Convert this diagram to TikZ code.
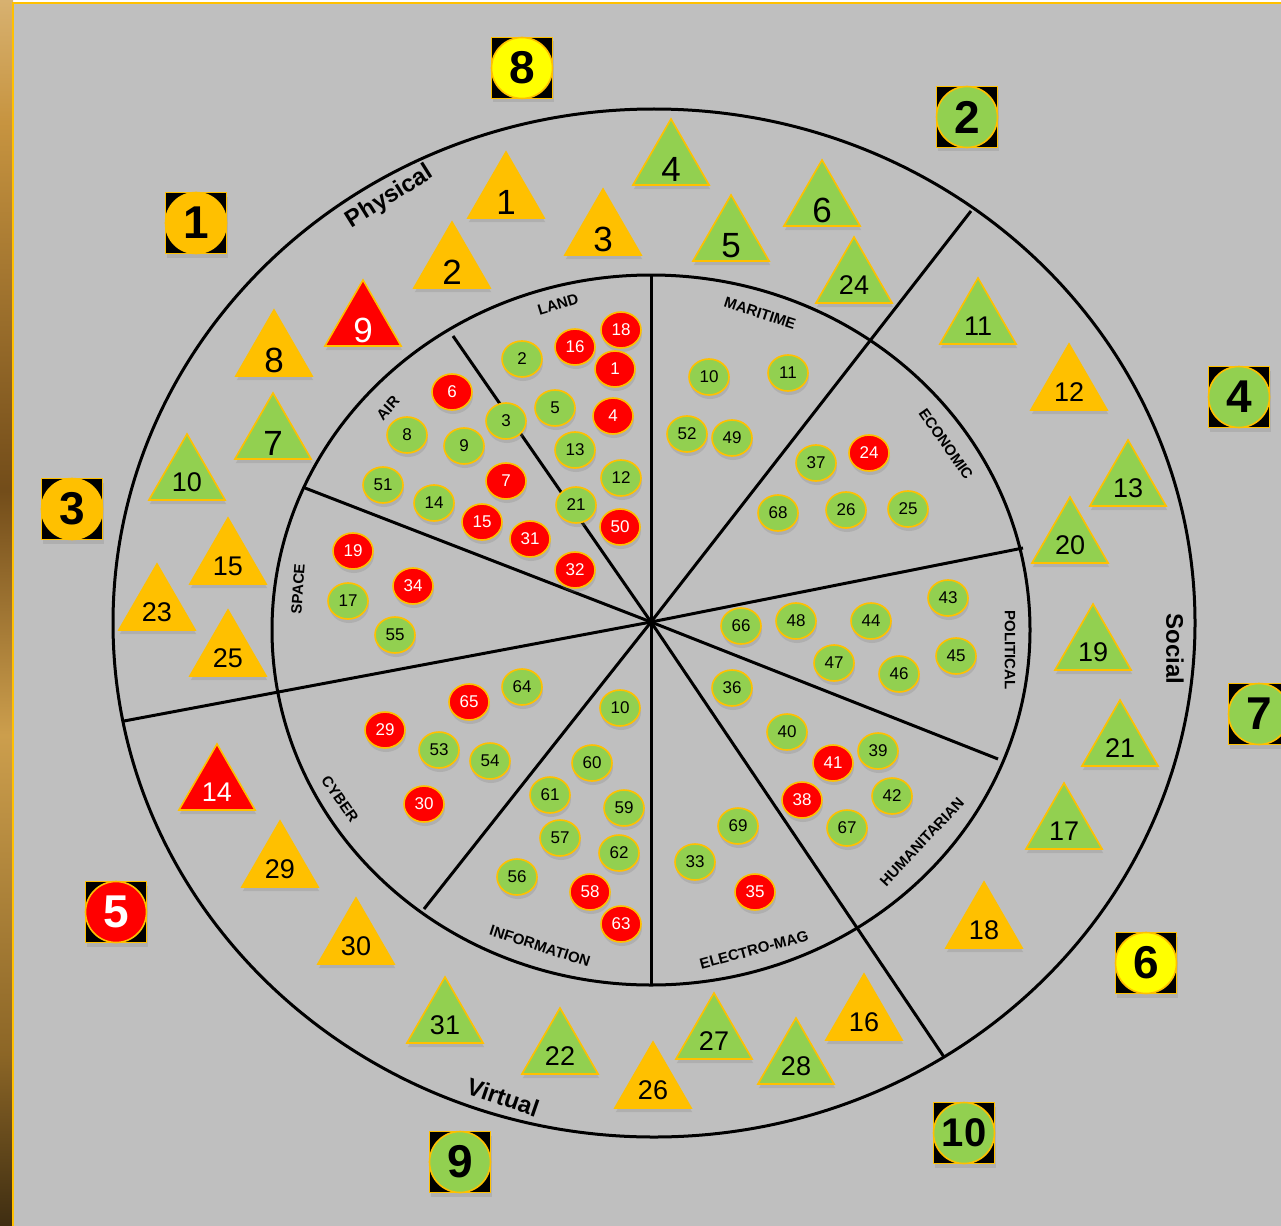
\documentclass[tikz,border=0pt]{standalone}
\usepackage{fontspec}
\setmainfont{Liberation Sans}
\usetikzlibrary{shapes.geometric,shadows}

\definecolor{bggray}{HTML}{BFBFBF}
\definecolor{gold}{HTML}{FFC000}
\definecolor{leaf}{HTML}{92D050}
\definecolor{alarm}{HTML}{FF0000}
\definecolor{lemon}{HTML}{FFFF00}
\pgfdeclareverticalshading{frameedge}{100bp}{rgb(0bp)=(0,0,0); rgb(20bp)=(0.03,0.02,0.01); rgb(32bp)=(0.55,0.4,0.15); rgb(45bp)=(0.8,0.62,0.3); rgb(55bp)=(0.45,0.3,0.1); rgb(70bp)=(0.78,0.58,0.25); rgb(84bp)=(0.96,0.9,0.78); rgb(100bp)=(1,1,1)}

\begin{document}
\begin{tikzpicture}[x=1pt,y=-1pt,
    ring/.style={line width=3pt},
    soft/.style={drop shadow={shadow xshift=1pt,shadow yshift=-4pt,opacity=0.25}},
    dot/.style={ellipse,draw=gold,line width=1.6pt,fill=#1,minimum width=40pt,minimum height=36pt,inner sep=0pt,font=\fontsize{17}{17}\selectfont,soft},
    tri/.style={regular polygon,regular polygon sides=3,minimum size=88pt,inner sep=0pt,draw=gold,line width=1.6pt,fill=#1,soft},
    one/.style={inner sep=0pt,font=\fontsize{35}{35}\selectfont},
    two/.style={inner sep=0pt,font=\fontsize{27}{27}\selectfont},
    badge/.style={rectangle,fill=black,draw=gold,line width=1.6pt,minimum size=61pt,inner sep=0pt,soft},
    badgedot/.style={circle,fill=#1,draw=gold,line width=1.6pt,minimum size=61pt,inner sep=0pt},
    sector/.style={font=\bfseries\fontsize{15}{15}\selectfont},
    realm/.style={font=\bfseries\fontsize{24}{24}\selectfont}]

% Cadre
\useasboundingbox (0,0) rectangle (1281,1225);
\clip (0,0) rectangle (1281,1225);
\fill[white] (0,0) rectangle (1281,1225);
\shade[shading=frameedge] (0,0) rectangle (13,1225);
\filldraw[fill=bggray,draw=gold,line width=2pt] (13,3) rectangle (1295,1240);

% Cercles
\coordinate (hub) at (651,622);
\draw[ring] (654,623) ellipse [x radius=541,y radius=514];
\draw[ring] (651,630) ellipse [x radius=379,y radius=355];

% Rayons
\foreach \p/\x/\y in {landmar/651/275, airland/453/336, spaceair/305/488,
    physvirt/124/721, cyberinfo/424/909, infoelec/651/985, virtsoc/944/1057,
    humpol/998/759, polecon/1023/548, socphys/971/211} {
    \coordinate (\p) at (\x,\y);
    \draw[ring] (hub) -- (\p);
}

% Noms des domaines
\node[realm,rotate=32] (physical) at (390,197) {Physical};
\node[realm,rotate=-19] (virtual) at (503,1097) {Virtual};
\node[realm,rotate=-90] (social) at (1175,649) {Social};
\node[sector,rotate=17] (land) at (558,304) {LAND};
\node[sector,rotate=48] (air) at (388,408) {AIR};
\node[sector,rotate=86] (space) at (298,589) {SPACE};
\node[sector,rotate=-55] (cyber) at (340,799) {CYBER};
\node[sector,rotate=-18] (information) at (540,946) {INFORMATION};
\node[sector,rotate=15] (electromag) at (754,950) {ELECTRO-MAG};
\node[sector,rotate=47] (humanitarian) at (922,842) {HUMANITARIAN};
\node[sector,rotate=-90] (political) at (1010,650) {POLITICAL};
\node[sector,rotate=-55] (economic) at (946,444) {ECONOMIC};
\node[sector,rotate=-18] (maritime) at (760,313) {MARITIME};

% Triangles
\foreach \n/\x/\y/\c/\tc in {1/506/196/gold/black, 2/452/266/gold/black,
    3/603/233/gold/black, 4/671/163/leaf/black, 5/731/239/leaf/black,
    6/822/204/leaf/black, 7/273/437/leaf/black, 8/274/354/gold/black,
    9/363/324/alarm/white} {
    \node[tri=\c] (t\n) at (\x,\y) {};
    \node[one,text=\tc] (tn\n) at ([yshift=-6.5pt]t\n.center) {\n};
}
\foreach \n/\x/\y/\c/\tc in {10/187/478/leaf/black, 11/978/322/leaf/black,
    12/1069/388/gold/black, 13/1128/484/leaf/black, 14/217/788/alarm/white,
    15/228/562/gold/black, 16/864/1018/gold/black, 17/1064/827/leaf/black,
    18/984/926/gold/black, 19/1093/648/leaf/black, 20/1070/541/leaf/black,
    21/1120/744/leaf/black, 22/560/1052/leaf/black, 23/157/608/gold/black,
    24/854/281/leaf/black, 25/228/654/gold/black, 26/653/1086/gold/black,
    27/714/1037/leaf/black, 28/796/1062/leaf/black, 29/280/865/gold/black,
    30/356/942/gold/black, 31/445/1021/leaf/black} {
    \node[tri=\c] (t\n) at (\x,\y) {};
    \node[two,text=\tc] (tn\n) at ([yshift=-4.5pt]t\n.center) {\n};
}

% Pastilles vertes
\foreach \s/\n/\x/\y in {land/2/522/359, land/5/555/408, land/3/506/421,
    land/13/575/450, land/12/621/478, land/21/576/505,
    air/8/407/435, air/9/464/446, air/51/383/485, air/14/434/503,
    space/17/348/601, space/55/395/635,
    mar/10/709/377, mar/11/788/373, mar/52/687/434, mar/49/732/438,
    eco/37/816/463, eco/68/778/513, eco/26/846/510, eco/25/908/509,
    pol/43/948/598, pol/66/741/626, pol/48/796/621, pol/44/871/621,
    pol/45/956/656, pol/47/834/663, pol/46/899/674,
    hum/36/732/688, hum/40/787/732, hum/39/878/751, hum/42/892/796, hum/67/847/828,
    elec/69/738/826, elec/33/695/862,
    cyb/64/522/687, cyb/53/439/750, cyb/54/490/761,
    info/10/620/708, info/60/592/763, info/61/550/795, info/59/624/808,
    info/57/560/838, info/62/619/853, info/56/517/877}
    \node[dot=leaf] (\s\n) at (\x,\y) {\n};

% Pastilles rouges
\foreach \s/\n/\x/\y in {land/18/621/330, land/16/575/347, land/1/615/369,
    land/4/613/416, land/50/620/527,
    air/6/452/392, air/7/506/481, air/15/482/522, air/31/530/539, air/32/575/570,
    space/19/353/551, space/34/413/586,
    eco/24/869/453,
    hum/41/833/763, hum/38/802/800,
    elec/35/755/892,
    cyb/65/469/702, cyb/29/385/730, cyb/30/424/804,
    info/58/590/892, info/63/621/924}
    \node[dot=alarm,text=white] (\s\n) at (\x,\y) {\n};

% Reperes carres
\foreach \n/\x/\y/\c/\tc/\fs in {1/196/223/gold/black/46, 2/967/117/leaf/black/46,
    3/72/509/gold/black/46, 4/1239/397/leaf/black/46, 5/116/912/alarm/white/46,
    6/1146/963/lemon/black/46, 7/1259/714/leaf/black/46, 8/522/68/lemon/black/46,
    9/460/1162/leaf/black/46, 10/964/1133/leaf/black/40} {
    \node[badge] (sq\n) at (\x,\y) {};
    \node[badgedot=\c,text=\tc,font=\bfseries\fontsize{\fs}{\fs}\selectfont] (num\n) at (sq\n) {\n};
}

\end{tikzpicture}
\end{document}
